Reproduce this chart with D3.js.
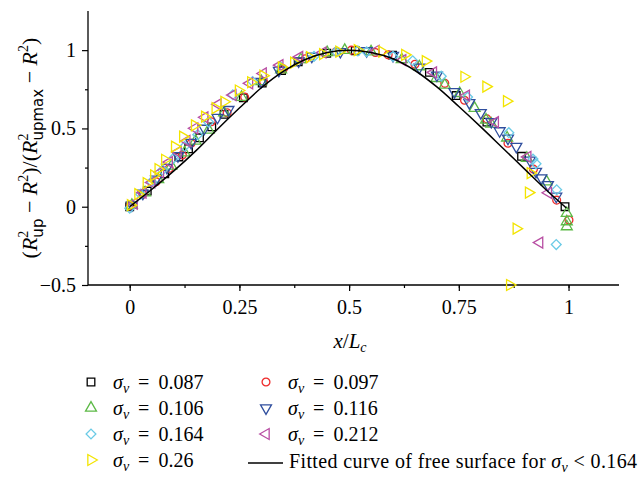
<!DOCTYPE html>
<html>
<head>
<meta charset="utf-8">
<script src="https://cdn.jsdelivr.net/npm/d3@7"></script>
<style>
  body { margin: 0; background: #fff; }
  text { font-family: "Liberation Serif", "DejaVu Serif", serif; }
</style>
</head>
<body>
<script>
// values, [x/Lc, normalised R^2]
var s087 = [[0,0],[0.04,0.1],[0.08,0.21],[0.112,0.318],[0.134,0.37],[0.159,0.44],[0.187,0.51],[0.215,0.59],[0.259,0.695],[0.302,0.79],[0.346,0.87],[0.384,0.925],[0.449,0.98],[0.514,0.996],[0.599,0.968],[0.683,0.858],[0.744,0.71],[0.814,0.54],[0.893,0.322],[0.992,0.0]];
var s097 = [[0.002,0.005],[0.03,0.08],[0.06,0.16],[0.09,0.245],[0.12,0.33],[0.14,0.405],[0.186,0.543],[0.222,0.6],[0.262,0.7],[0.305,0.8],[0.35,0.88],[0.4,0.945],[0.47,0.99],[0.505,1.0],[0.56,0.985],[0.589,0.97],[0.65,0.91],[0.718,0.788],[0.763,0.68],[0.814,0.561],[0.862,0.405],[0.92,0.24],[0.973,0.042],[1.001,-0.085]];
var s106 = [[0.005,0.01],[0.035,0.09],[0.065,0.175],[0.095,0.26],[0.125,0.345],[0.15,0.42],[0.18,0.49],[0.215,0.6],[0.255,0.7],[0.3,0.8],[0.345,0.875],[0.39,0.94],[0.45,0.985],[0.49,1.0],[0.55,0.99],[0.62,0.94],[0.66,0.895],[0.699,0.82],[0.718,0.777],[0.752,0.724],[0.786,0.629],[0.812,0.554],[0.824,0.529],[0.86,0.44],[0.905,0.31],[0.95,0.16],[0.996,-0.042],[0.996,-0.095],[0.996,-0.127]];
var s116 = [[0.005,0.01],[0.03,0.085],[0.06,0.175],[0.085,0.25],[0.11,0.325],[0.14,0.41],[0.17,0.5],[0.2,0.57],[0.225,0.62],[0.3,0.8],[0.34,0.87],[0.385,0.93],[0.415,0.96],[0.48,0.99],[0.54,0.995],[0.6,0.965],[0.66,0.89],[0.7,0.84],[0.74,0.734],[0.774,0.664],[0.8,0.6],[0.824,0.543],[0.843,0.484],[0.862,0.437],[0.881,0.384],[0.912,0.297],[0.926,0.225],[0.938,0.183],[0.953,0.14],[0.972,0.066]];
var s164 = [[0,-0.01],[0.025,0.08],[0.05,0.16],[0.075,0.235],[0.1,0.31],[0.125,0.385],[0.155,0.46],[0.18,0.54],[0.235,0.715],[0.28,0.8],[0.345,0.89],[0.42,0.96],[0.47,0.99],[0.52,0.995],[0.54,0.99],[0.6,0.96],[0.645,0.932],[0.71,0.834],[0.77,0.7],[0.864,0.473],[0.919,0.304],[0.926,0.274],[0.973,0.108],[0.972,-0.242]];
var s212 = [[0.01,0.02],[0.03,0.09],[0.05,0.155],[0.07,0.22],[0.09,0.285],[0.11,0.35],[0.13,0.42],[0.148,0.501],[0.171,0.571],[0.201,0.654],[0.235,0.713],[0.273,0.788],[0.304,0.851],[0.342,0.904],[0.387,0.957],[0.44,0.985],[0.561,0.996],[0.622,0.936],[0.692,0.858],[0.767,0.71],[0.833,0.54],[0.907,0.318],[0.954,0.089],[0.934,-0.229]];
var s260 = [[0.002,0.01],[0.019,0.08],[0.038,0.15],[0.055,0.2],[0.065,0.24],[0.08,0.3],[0.1025,0.384],[0.121,0.448],[0.148,0.52],[0.171,0.575],[0.195,0.63],[0.215,0.67],[0.248,0.742],[0.276,0.795],[0.304,0.837],[0.346,0.89],[0.374,0.92],[0.41,0.955],[0.44,0.975],[0.477,0.99],[0.519,1.0],[0.575,0.99],[0.627,0.97],[0.674,0.93],[0.762,0.83],[0.812,0.767],[0.859,0.674],[0.913,0.215],[0.909,0.09],[0.881,-0.14],[0.866,-0.5]];
// fitted curve
var fitted = [[0,0],[0.05,0.11],[0.1,0.227],[0.15,0.355],[0.2,0.495],[0.25,0.63],[0.3,0.76],[0.35,0.865],[0.4,0.94],[0.45,0.985],[0.5,1.0],[0.55,0.985],[0.6,0.945],[0.65,0.87],[0.7,0.765],[0.75,0.64],[0.8,0.51],[0.85,0.375],[0.9,0.24],[0.95,0.105],[0.995,-0.008]];

var sigmas = ["0.087","0.097","0.106","0.116","0.164","0.212","0.26"];
var xTicks = [0, 0.25, 0.5, 0.75, 1];
var yTicks = [-0.5, 0, 0.5, 1];

var width = 640, height = 478;

var svg = d3.select("body").append("svg")
    .attr("width", width)
    .attr("height", height);

var x = d3.scaleLinear().domain([-0.095, 1.115]).range([88, 619]);
var y = d3.scaleLinear().domain([-0.5, 1.25]).range([285, 11]);

// one entry per series: data, colour, symbol, rotation
var series = [
  {data: s087, color: "#000000", type: d3.symbolSquare, size: 58, rot: 0},
  {data: s097, color: "#ee2a2a", type: d3.symbolCircle, size: 48, rot: 0},
  {data: s106, color: "#5cb946", type: d3.symbolTriangle, size: 52, rot: 0},
  {data: s116, color: "#2f4e9e", type: d3.symbolTriangle, size: 52, rot: 180},
  {data: s164, color: "#6bcbe6", type: d3.symbolSquare, size: 48, rot: 45},
  {data: s212, color: "#b84ea3", type: d3.symbolTriangle, size: 52, rot: -90},
  {data: s260, color: "#f3e400", type: d3.symbolTriangle, size: 52, rot: 90}
];

// axes
var xAxis = svg.append("g").attr("transform", "translate(0," + y(-0.5) + ")");
xAxis.append("line").attr("x1", 88).attr("x2", 619).attr("stroke", "#000").attr("stroke-width", 1.3);
xAxis.call(d3.axisBottom(x).tickValues(d3.range(0, 1.01, 0.125)).tickSize(3).tickFormat(""))
    .call(function(g){ g.select(".domain").remove(); });
xAxis.append("g").call(d3.axisBottom(x).tickValues(xTicks).tickSize(6).tickPadding(9).tickFormat(function(d){ return d; }))
    .call(function(g){
      g.select(".domain").remove();
      g.selectAll("text").attr("font-size", 20).attr("font-family", "Liberation Serif").attr("fill", "#000");
    });

var yAxis = svg.append("g").attr("transform", "translate(88,0)");
yAxis.append("line").attr("y1", 11).attr("y2", 285).attr("stroke", "#000").attr("stroke-width", 1.3);
yAxis.call(d3.axisLeft(y).tickValues([-0.25, 0.25, 0.75]).tickSize(3).tickFormat(""))
    .call(function(g){ g.select(".domain").remove(); });
yAxis.append("g").call(d3.axisLeft(y).tickValues(yTicks).tickSize(6).tickPadding(6)
      .tickFormat(function(d){ return d < 0 ? "\u2212" + Math.abs(d) : d; }))
    .call(function(g){
      g.select(".domain").remove();
      g.selectAll("text").attr("font-size", 20).attr("font-family", "Liberation Serif").attr("fill", "#000");
    });
svg.selectAll(".tick line").attr("stroke", "#000").attr("stroke-width", 1.2);

// markers
series.forEach(function(s) {
  var sym = d3.symbol().type(s.type).size(s.size);
  svg.append("g").selectAll("path")
    .data(s.data)
    .enter().append("path")
    .attr("d", sym)
    .attr("transform", function(d){ return "translate(" + x(d[0]) + "," + y(d[1]) + ") rotate(" + s.rot + ")"; })
    .attr("fill", "none")
    .attr("stroke", s.color)
    .attr("stroke-width", 1.3);
});

// fitted curve
svg.append("path")
  .datum(fitted)
  .attr("d", d3.line().x(function(d){ return x(d[0]); }).y(function(d){ return y(d[1]); }).curve(d3.curveCatmullRom))
  .attr("fill", "none")
  .attr("stroke", "#000")
  .attr("stroke-width", 1.5);

// axis titles
var xt = svg.append("text").attr("x", 350).attr("y", 348).attr("text-anchor", "middle").attr("font-size", 21);
xt.append("tspan").attr("font-style", "italic").text("x");
xt.append("tspan").text("/");
xt.append("tspan").attr("font-style", "italic").text("L");
xt.append("tspan").attr("font-style", "italic").attr("font-size", 14).attr("dy", 4).text("c");

var yt = svg.append("text").attr("transform", "translate(37,148) rotate(-90)")
    .attr("text-anchor", "middle").attr("font-size", 22);
yt.append("tspan").text("(");
yt.append("tspan").attr("font-style", "italic").text("R");
yt.append("tspan").attr("font-size", 14).attr("dy", -9).text("2");
yt.append("tspan").attr("font-size", 15).attr("font-family", "DejaVu Sans").attr("dx", -7).attr("dy", 15).text("up");
yt.append("tspan").attr("dy", -6).text(" \u2212 ");
yt.append("tspan").attr("font-style", "italic").text("R");
yt.append("tspan").attr("font-size", 14).attr("dy", -9).text("2");
yt.append("tspan").attr("dy", 9).text(")/(");
yt.append("tspan").attr("font-style", "italic").text("R");
yt.append("tspan").attr("font-size", 14).attr("dy", -9).text("2");
yt.append("tspan").attr("font-size", 15).attr("font-family", "DejaVu Sans").attr("dx", -7).attr("dy", 15).text("upmax");
yt.append("tspan").attr("dy", -6).text(" \u2212 ");
yt.append("tspan").attr("font-style", "italic").text("R");
yt.append("tspan").attr("font-size", 14).attr("dy", -9).text("2");
yt.append("tspan").attr("dy", 9).text(")");

// legend
var legendPos = [[91,382],[266,382],[91,408],[266,408],[91,434],[266,434],[91,460]];
series.forEach(function(s, i) {
  var p = legendPos[i];
  svg.append("path")
    .attr("d", d3.symbol().type(s.type).size(s.size)())
    .attr("transform", "translate(" + p[0] + "," + p[1] + ") rotate(" + s.rot + ")")
    .attr("fill", "none").attr("stroke", s.color).attr("stroke-width", 1.3);
  var t = svg.append("text").attr("x", p[0] + 22).attr("y", p[1] + 7).attr("font-size", 20);
  t.append("tspan").attr("font-style", "italic").text("\u03c3");
  t.append("tspan").attr("font-style", "italic").attr("font-size", 14).attr("dy", 4).text("\u03bd");
  t.append("tspan").attr("dy", -4).text("\u2009 = \u2009" + sigmas[i]);
});
svg.append("line").attr("x1", 248).attr("x2", 283).attr("y1", 463).attr("y2", 463)
  .attr("stroke", "#000").attr("stroke-width", 1.3);
var ft = svg.append("text").attr("x", 289).attr("y", 468).attr("font-size", 20)
  .attr("textLength", 348).attr("lengthAdjust", "spacing");
ft.append("tspan").text("Fitted curve of free surface for ");
ft.append("tspan").attr("font-style", "italic").text("\u03c3");
ft.append("tspan").attr("font-style", "italic").attr("font-size", 14).attr("dy", 4).text("\u03bd");
ft.append("tspan").attr("dy", -4).text(" < 0.164");
</script>
</body>
</html>
